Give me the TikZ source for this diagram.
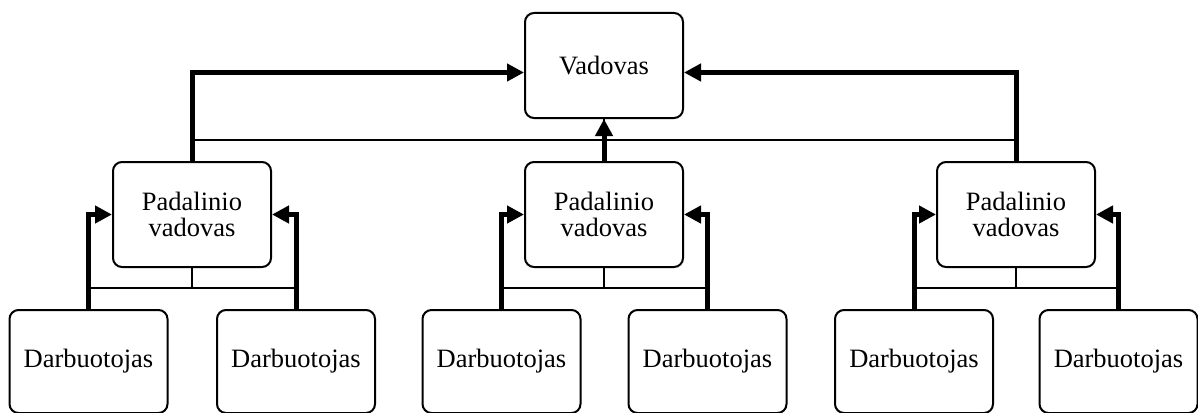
\documentclass[tikz,border=0pt]{standalone}
\usepackage{fontspec}
\setmainfont{Liberation Serif}
\usetikzlibrary{arrows.meta}
\tikzset{
  unit/.style={draw, line width=2pt, rounded corners=9pt, inner sep=0pt,
    minimum width=158pt, align=center, font=\fontsize{26.5}{26.5}\selectfont},
  chief/.style={unit, minimum height=105pt},
  worker/.style={unit, minimum height=103pt},
  link/.style={line width=1.3pt},
  report/.style={line width=5pt, -{Triangle[length=17pt,width=17pt]}}
}
\begin{document}
\begin{tikzpicture}[x=1pt,y=-1pt]
\useasboundingbox (0,0) rectangle (1198,412);

% top manager
\node[chief] (v) at (604,65.5) {Vadovas};

% department heads
\node[chief] (p1) at (192,214.5) {Padalinio\\vadovas};
\node[chief] (p2) at (604,214.5) {Padalinio\\vadovas};
\node[chief] (p3) at (1016,214.5) {Padalinio\\vadovas};

% employees
\node[worker] (d1) at (88.5,361.5) {Darbuotojas};
\node[worker] (d2) at (296,361.5) {Darbuotojas};
\node[worker] (d3) at (501.5,361.5) {Darbuotojas};
\node[worker] (d4) at (707.5,361.5) {Darbuotojas};
\node[worker] (d5) at (914,361.5) {Darbuotojas};
\node[worker] (d6) at (1118.5,361.5) {Darbuotojas};

% thin hierarchy lines
\coordinate (topbus) at (0,140);
\draw[link] (v.south) -- (v.south |- topbus);
\draw[link] (p1.north |- topbus) -- (p3.north |- topbus);
\foreach \p in {p1,p2,p3}
  \draw[link] (\p.north |- topbus) -- (\p.north);

\coordinate (lowbus) at (0,288);
\foreach \p/\a/\b in {p1/d1/d2, p2/d3/d4, p3/d5/d6} {
  \draw[link] (\p.south) -- (\p.south |- lowbus);
  \draw[link] (\a.north |- lowbus) -- (\b.north |- lowbus);
  \draw[link] (\a.north |- lowbus) -- (\a.north);
  \draw[link] (\b.north |- lowbus) -- (\b.north);
}

% reporting arrows
\draw[report] (p1.north) |- ([yshift=-7pt]v.west);
\draw[report] (p3.north) |- ([yshift=-7pt]v.east);
\draw[report] (p2.north) -- (v.south);
\foreach \p/\a/\b in {p1/d1/d2, p2/d3/d4, p3/d5/d6} {
  \draw[report] (\a.north) |- (\p.west);
  \draw[report] (\b.north) |- (\p.east);
}
\end{tikzpicture}
\end{document}
